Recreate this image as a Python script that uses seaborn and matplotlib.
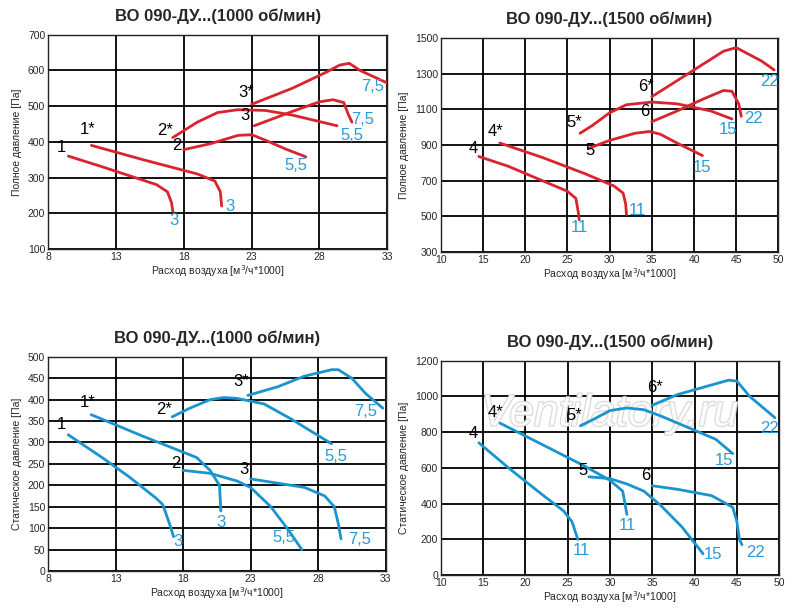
import matplotlib
matplotlib.use("Agg")
import matplotlib.pyplot as plt
import matplotlib.patheffects as pe
import seaborn as sns
import pandas as pd

RED = "#d9232d"
BLUE = "#1a94cf"
LBL = "#2a9bd6"

# curve data: name -> (x list, y list, start label pos, end label, end label pos)
total_1000 = {
    "1":  ([9.5, 12, 14, 16, 16.8, 17.1, 17.2], [360, 330, 305, 280, 260, 230, 205], (9.0, 362), "3", (17.3, 180)),
    "1*": ([11.2, 15, 19, 20.3, 20.7, 20.8], [390, 350, 310, 290, 260, 220], (10.9, 413), "3", (21.4, 220)),
    "2":  ([18, 20, 22, 23, 24, 25.5, 27], [378, 395, 418, 420, 405, 380, 358], (17.5, 368), "5,5", (26.3, 333)),
    "2*": ([17.2, 19, 20.5, 22, 24, 26, 29.3], [412, 455, 482, 490, 488, 475, 445], (16.6, 412), "5,5", (30.4, 418)),
    "3":  ([23.2, 26, 28, 29, 29.8, 30.1, 30.4], [445, 485, 512, 518, 510, 480, 455], (22.5, 452), "7,5", (31.2, 463)),
    "3*": ([23, 26, 28.5, 29.5, 30.2, 31, 33], [505, 550, 595, 615, 620, 600, 565], (22.6, 517), "7,5", (31.9, 555)),
}
total_1500 = {
    "4":  ([14.5, 18, 22, 25, 26, 26.3, 26.4], [835, 780, 700, 640, 600, 520, 480], (13.8, 840), "11", (26.4, 435)),
    "4*": ([17, 22, 27, 30.5, 31.6, 31.9, 32], [910, 830, 740, 670, 630, 570, 510], (16.5, 935), "11", (33.3, 530)),
    "5":  ([27.5, 30, 33, 34.7, 36, 38, 41], [880, 925, 965, 975, 960, 910, 840], (27.7, 825), "15", (41.0, 775)),
    "5*": ([26.5, 28, 30, 32, 35, 38, 42, 44.5], [965, 1010, 1080, 1125, 1140, 1130, 1090, 1045], (25.8, 985), "15", (44.0, 985)),
    "6":  ([35, 38, 41, 43.5, 44.5, 45.3, 45.6], [1030, 1090, 1155, 1205, 1200, 1130, 1060], (34.2, 1045), "22", (47.0, 1050)),
    "6*": ([35, 38, 41, 43.5, 45, 46, 48, 49.5], [1170, 1260, 1350, 1425, 1445, 1420, 1370, 1320], (34.3, 1185), "22", (49.0, 1255)),
}
static_1000 = {
    "1":  ([9.5, 12, 14, 16, 16.5, 17, 17.3], [318, 265, 220, 170, 155, 110, 80], (9.0, 325), "3", (17.6, 68)),
    "1*": ([11.2, 15, 19, 20, 20.7, 20.8], [365, 315, 265, 235, 200, 140], (10.9, 375), "3", (20.8, 112)),
    "2":  ([18, 20, 22, 23, 24.5, 25.7, 26.8], [235, 228, 210, 195, 150, 100, 50], (17.5, 233), "5,5", (25.5, 78)),
    "2*": ([17.2, 18.5, 20, 21, 22, 24, 26, 29], [360, 380, 400, 405, 403, 390, 355, 297], (16.6, 360), "5,5", (29.3, 268)),
    "3":  ([23, 25, 27, 28.5, 29.2, 29.5, 29.7], [215, 205, 195, 175, 150, 110, 75], (22.5, 220), "7,5", (31.1, 73)),
    "3*": ([22.8, 25, 27, 29, 29.5, 30.5, 31.5, 32.8], [410, 430, 455, 470, 470, 450, 415, 380], (22.3, 425), "7,5", (31.5, 373)),
}
static_1500 = {
    "4":  ([14.5, 18, 22, 24.5, 25.5, 26.2], [740, 600, 450, 360, 300, 200], (13.8, 748), "11", (26.6, 140)),
    "4*": ([17, 22, 27, 30, 31.5, 32], [850, 730, 610, 530, 470, 340], (16.5, 870), "11", (32.0, 280)),
    "5":  ([27.5, 30, 32, 34, 36, 38.5, 41], [550, 540, 510, 470, 390, 270, 120], (26.8, 545), "15", (42.2, 115)),
    "5*": ([26.5, 28, 30, 32, 34, 36, 39, 42.5, 44.5], [835, 870, 920, 935, 925, 890, 830, 760, 680], (25.8, 850), "15", (43.5, 640)),
    "6":  ([35, 38, 42, 44.5, 45, 45.3, 45.6], [500, 480, 445, 380, 300, 200, 170], (34.2, 515), "22", (47.2, 125)),
    "6*": ([35, 38, 41, 44, 45, 46.5, 49.5], [950, 1010, 1050, 1090, 1085, 1000, 880], (35.3, 1010), "22", (48.8, 818)),
}

panels = [
    (total_1000, RED, "ВО 090-ДУ...(1000 об/мин)", "Полное давление [Па]", (8, 33), list(range(8, 34, 5)), (100, 700), list(range(100, 701, 100))),
    (total_1500, RED, "ВО 090-ДУ...(1500 об/мин)", "Полное давление [Па]", (10, 50), list(range(10, 51, 5)), (300, 1500), list(range(300, 1501, 200))),
    (static_1000, BLUE, "ВО 090-ДУ...(1000 об/мин)", "Статическое давление [Па]", (8, 33), list(range(8, 34, 5)), (0, 500), list(range(0, 501, 50))),
    (static_1500, BLUE, "ВО 090-ДУ...(1500 об/мин)", "Статическое давление [Па]", (10, 50), list(range(10, 51, 5)), (0, 1200), list(range(0, 1201, 200))),
]

sns.set_style("white")
plt.rcParams["font.family"] = ["Liberation Sans", "DejaVu Sans"]

fig = plt.figure(figsize=(8, 6.1), dpi=100)
boxes = [
    [0.06, 0.592, 0.424, 0.351],
    [0.551, 0.587, 0.422, 0.351],
    [0.06, 0.064, 0.422, 0.351],
    [0.551, 0.057, 0.423, 0.352],
]

for box, (curves, color, title, ylabel, xlim, xt, ylim, yt) in zip(boxes, panels):
    ax = fig.add_axes(box)
    for name, (xs, ys, sp, endlbl, ep) in curves.items():
        df = pd.DataFrame({"x": xs, "y": ys})
        sns.lineplot(data=df, x="x", y="y", ax=ax, color=color, lw=2, sort=False, zorder=3)
        ax.text(sp[0], sp[1], name, fontsize=12, color="black", ha="center", va="bottom", zorder=4)
        ax.text(ep[0], ep[1], endlbl, fontsize=12, color=LBL, ha="center", va="center", zorder=4)
    ax.set_xlim(xlim)
    ax.set_ylim(ylim)
    ax.set_xticks(xt)
    ax.set_yticks(yt)
    ax.grid(True, color="black", lw=1.3)
    ax.set_axisbelow(True)
    for s in ax.spines.values():
        s.set_color("#222222")
        s.set_linewidth(1)
    ax.tick_params(labelsize=7.5, length=0, pad=2)
    ax.set_ylabel(ylabel, fontsize=7.5, labelpad=4)
    ax.set_xlabel("Расход воздуха [м$^3$/ч*1000]", fontsize=7.5, labelpad=1)
    ax.set_title(title, fontsize=12, fontweight="bold", pad=10)

# watermark on the last panel
ax.text(0.5, 0.75, "Ventilatory.ru", transform=ax.transAxes, fontsize=32, style="italic",
        ha="center", va="center", color="white", alpha=0.85, zorder=2,
        path_effects=[pe.withStroke(linewidth=1.5, foreground="#cfcfcf")])

fig.savefig("out.png", dpi=100)
